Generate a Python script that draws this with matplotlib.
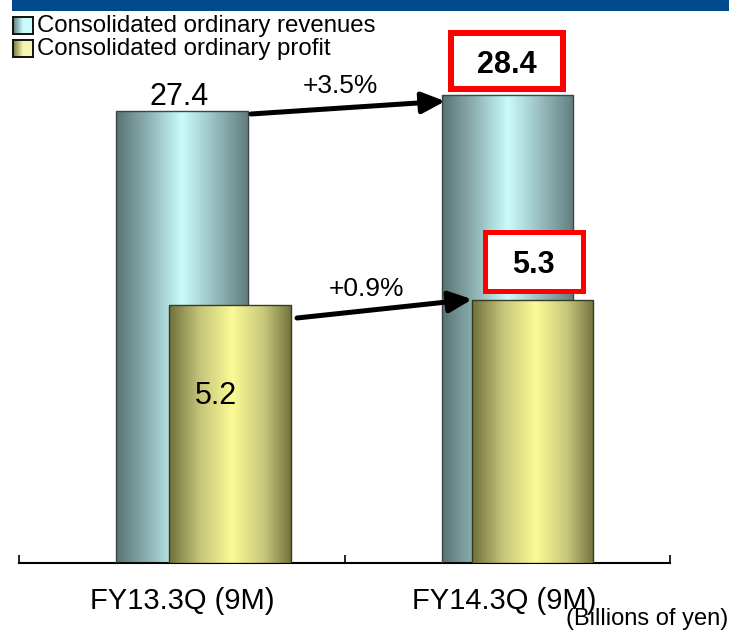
import numpy as np
import matplotlib
matplotlib.use('Agg')
import matplotlib.pyplot as plt
from matplotlib.colors import LinearSegmentedColormap
from matplotlib.patches import Rectangle, FancyArrowPatch
from matplotlib import transforms

# ---------------- data ----------------
categories = ['FY13.3Q (9M)', 'FY14.3Q (9M)']
revenues = [27.4, 28.4]
profits = [5.2, 5.3]
revenue_growth = '+3.5%'
profit_growth = '+0.9%'
legend_labels = ['Consolidated ordinary revenues', 'Consolidated ordinary profit']
unit_label = '(Billions of yen)'

# ---------------- layout helpers (pixels, top-left origin) ----------------
W, H = 729, 632
plt.rcParams['font.family'] = ['Liberation Sans', 'DejaVu Sans']
fig = plt.figure(figsize=(W / 100, H / 100), dpi=100)


def fx(px):
    return px / W


def fy(py):
    return 1 - py / H


def P(x, y):
    return (fx(x), fy(y))


axis_y = 563
top_y = 20
ax = fig.add_axes([fx(19), fy(axis_y), fx(670) - fx(19), fy(top_y) - fy(axis_y)])
ax.patch.set_visible(False)
ax2 = ax.twinx()
ax2.patch.set_visible(False)

ax_h = axis_y - top_y
XLIM = (-0.5, 1.5)
YLIM1 = (0, ax_h / 16.48)
YLIM2 = (0, ax_h / 49.6)
ax.set_xlim(*XLIM)
ax.set_ylim(*YLIM1)
ax2.set_ylim(*YLIM2)

unit = 2 / 651.0  # data units per pixel along x
rev_w = 131.5 * unit
prof_w = 121.5 * unit
prof_off = np.array([48.25, 25.25]) * unit

x = np.arange(len(categories))

rev_cmap = LinearSegmentedColormap.from_list(
    'rev', [(0, '#597273'), (0.25, '#8fb3b4'), (0.5, '#c9fcfc'), (0.75, '#98bdbe'), (1, '#617d7e')])
prof_cmap = LinearSegmentedColormap.from_list(
    'prof', [(0, '#6f703c'), (0.25, '#c4c47a'), (0.52, '#fbfb96'), (0.78, '#c8c87c'), (1, '#73733f')])

rev_bars = ax.bar(x, revenues, width=rev_w, facecolor='none',
                  edgecolor='#3a4646', linewidth=1.0, zorder=3)
prof_bars = ax2.bar(x + prof_off, profits, width=prof_w, facecolor='none',
                    edgecolor='#3a3a22', linewidth=1.0, zorder=3)


def fill_gradient(axis, bars, cmap):
    grad = np.linspace(0, 1, 256).reshape(1, -1)
    for b in bars:
        x0, y0 = b.get_x(), b.get_y()
        im = axis.imshow(grad, extent=[x0, x0 + b.get_width(), y0, y0 + b.get_height()],
                         aspect='auto', cmap=cmap, zorder=2, interpolation='bilinear')
        im.set_clip_path(b)


fill_gradient(ax, rev_bars, rev_cmap)
fill_gradient(ax2, prof_bars, prof_cmap)
ax.set_xlim(*XLIM)
ax.set_ylim(*YLIM1)
ax2.set_ylim(*YLIM2)

for s in ['top', 'left', 'right']:
    ax.spines[s].set_visible(False)
ax.spines['bottom'].set_linewidth(1.5)
ax.spines['bottom'].set_color('black')
for s in ax2.spines.values():
    s.set_visible(False)
ax.set_yticks([])
ax2.set_yticks([])
ax.set_xticks([-0.5, 0.5, 1.5])
ax.tick_params(axis='x', direction='in', length=6, width=1.2, color='black', labelbottom=False)

# category labels
bt = transforms.blended_transform_factory(ax.transData, fig.transFigure)
for i, c in enumerate(categories):
    ax.text(x[i] - (3 * unit if i == 1 else 0), fy(609), c, transform=bt,
            ha='center', va='baseline', fontsize=21, color='black')

# value labels
ax.annotate(f'{revenues[0]:.1f}', xy=(x[0], revenues[0]), xytext=(-3, 6),
            textcoords='offset pixels', ha='center', va='baseline', fontsize=22, color='black')
ax2.annotate(f'{profits[0]:.1f}', xy=(x[0] + prof_off[0], profits[0]), xytext=(-14.5, -99),
             textcoords='offset pixels', ha='center', va='baseline', fontsize=22, color='black',
             zorder=6)

# highlighted boxes for latest values
box1 = Rectangle(P(451, 89), fx(563) - fx(451), fy(33) - fy(89), transform=fig.transFigure,
                 facecolor='white', edgecolor='#ff0000', linewidth=6 * 0.72, joinstyle='miter', zorder=10)
box2 = Rectangle(P(484.5, 290.5), fx(582.5) - fx(484.5), fy(231.5) - fy(290.5), transform=fig.transFigure,
                 facecolor='white', edgecolor='#ff0000', linewidth=5 * 0.72, joinstyle='miter', zorder=10)
fig.add_artist(box1)
fig.add_artist(box2)
fig.text(*P(507, 73), f'{revenues[1]:.1f}', ha='center', va='baseline', fontsize=22,
         fontweight='bold', color='black', zorder=11)
fig.text(*P(533.5, 273), f'{profits[1]:.1f}', ha='center', va='baseline', fontsize=22,
         fontweight='bold', color='black', zorder=11)

# growth arrows
for (a, b) in [((251, 114), (448, 101)), ((297, 318), (475, 299))]:
    arr = FancyArrowPatch(P(*a), P(*b), transform=fig.transFigure,
                          arrowstyle='-|>,head_length=0.7,head_width=0.32', mutation_scale=20,
                          linewidth=3.6, color='black', shrinkA=0, shrinkB=2, zorder=9)
    fig.add_artist(arr)
fig.text(*P(340, 93), revenue_growth, ha='center', va='baseline', fontsize=19, color='black')
fig.text(*P(367, 296), profit_growth, ha='center', va='baseline', fontsize=19, color='black')

# header band
fig.add_artist(Rectangle(P(12, 11), 1 - fx(12), fy(0) - fy(11), transform=fig.transFigure,
                         facecolor='#004a8c', edgecolor='none', zorder=1))

# legend
legend_cmaps = [
    LinearSegmentedColormap.from_list('lr', ['#5f7b7c', '#c9fcfc', '#c9fcfc']),
    LinearSegmentedColormap.from_list('lp', ['#75763f', '#f6f6b0', '#f6f6b0']),
]
for i, (lab, cm) in enumerate(zip(legend_labels, legend_cmaps)):
    top = 17 + 23 * i
    lax = fig.add_axes([fx(13), fy(top + 17), fx(33) - fx(13), fy(top) - fy(top + 17)])
    lax.imshow(np.linspace(0, 1, 64).reshape(1, -1), aspect='auto', cmap=cm,
               extent=[0, 1, 0, 1], interpolation='bilinear')
    lax.set_xticks([])
    lax.set_yticks([])
    for s in lax.spines.values():
        s.set_linewidth(1.4)
        s.set_color('#111111')
    fig.text(fx(37), fy(32 + 23 * i), lab, ha='left', va='baseline', fontsize=17.3, color='black')

# unit label
fig.text(fx(728), fy(625), unit_label, ha='right', va='baseline', fontsize=17,
         color='black')

fig.savefig('out.png', dpi=100)
